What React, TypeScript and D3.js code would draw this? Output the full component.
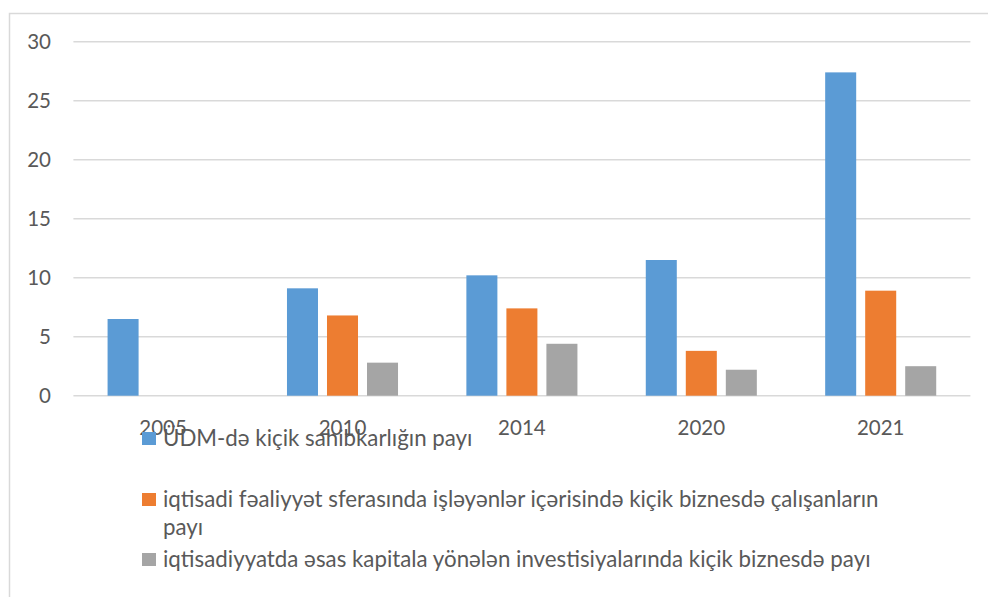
import React from "react";
import * as d3 from "d3";

const categories = ["2005", "2010", "2014", "2020", "2021"];
const seriesNames = [
  "ÜDM-də kiçik sahibkarlığın payı",
  "iqtisadi fəaliyyət sferasında işləyənlər içərisində kiçik biznesdə çalışanların payı",
  "iqtisadiyyatda əsas kapitala yönələn investisiyalarında kiçik biznesdə payı",
];
const gdpShare: (number | null)[] = [6.5, 9.1, 10.2, 11.5, 27.4];
const employeeShare: (number | null)[] = [null, 6.8, 7.4, 3.8, 8.9];
const investmentShare: (number | null)[] = [null, 2.8, 4.4, 2.2, 2.5];
const yTicks = [0, 5, 10, 15, 20, 25, 30];

const colors = ["#5B9BD5", "#ED7D31", "#A5A5A5"];
const legendLines: string[][] = [
  ["ÜDM-də kiçik sahibkarlığın payı"],
  ["iqtisadi fəaliyyət sferasında işləyənlər içərisində kiçik biznesdə çalışanların", "payı"],
  ["iqtisadiyyatda əsas kapitala yönələn investisiyalarında kiçik biznesdə payı"],
];

export default function App() {
  const W = 988;
  const H = 597;
  const left = 73.4;
  const right = 970.4;
  const y0 = 395.7;
  const y30 = 41.7;
  const series = [gdpShare, employeeShare, investmentShare];

  const x = d3.scaleBand<string>().domain(categories).range([left, right]).paddingInner(0.381).paddingOuter(0.1905);
  const xs = d3.scaleBand<number>().domain([0, 1, 2]).range([0, x.bandwidth()]).paddingInner(0.225);
  const y = d3.scaleLinear().domain([0, 30]).range([y0, y30]);

  const font = "Lato, 'Open Sans', sans-serif";
  const textColor = "#595959";
  const legendBaselines = [446, 507, 567];

  return (
    <svg width={W} height={H} style={{ position: "absolute", left: 0, top: 0, background: "#fff" }}>
      <rect x={0} y={0} width={W} height={H} fill="#fff" />
      <rect x={9.5} y={13.5} width={1200} height={1000} fill="none" stroke="#D9D9D9" strokeWidth={1.5} />
      {yTicks.map((t) => (
        <g key={t}>
          <line x1={left} x2={right} y1={y(t)} y2={y(t)} stroke="#D9D9D9" strokeWidth={1.5} />
          <text x={51} y={y(t)} dy="0.35em" textAnchor="end" fontFamily={font} fontSize={20.5} fill={textColor}>
            {t}
          </text>
        </g>
      ))}
      {categories.map((c, ci) => (
        <g key={c}>
          {series.map((s, si) => {
            const v = s[ci];
            if (v == null) return null;
            return (
              <rect
                key={si}
                x={(x(c) as number) + (xs(si) as number)}
                y={y(v)}
                width={xs.bandwidth()}
                height={y0 - y(v)}
                fill={colors[si]}
              />
            );
          })}
        </g>
      ))}
      {categories.map((c) => (
        <text key={c} x={(x(c) as number) + x.bandwidth() / 2} y={435} textAnchor="middle" fontFamily={font} fontSize={20.5} fill={textColor}>
          {c}
        </text>
      ))}
      {seriesNames.map((name, i) => (
        <g key={name}>
          <rect x={142} y={legendBaselines[i] - 14} width={14} height={13} fill={colors[i]} />
          {legendLines[i].map((ln, li) => (
            <text key={li} x={163} y={legendBaselines[i] + li * 28} fontFamily={font} fontSize={22.3} fill={textColor}>
              {ln}
            </text>
          ))}
        </g>
      ))}
    </svg>
  );
}
